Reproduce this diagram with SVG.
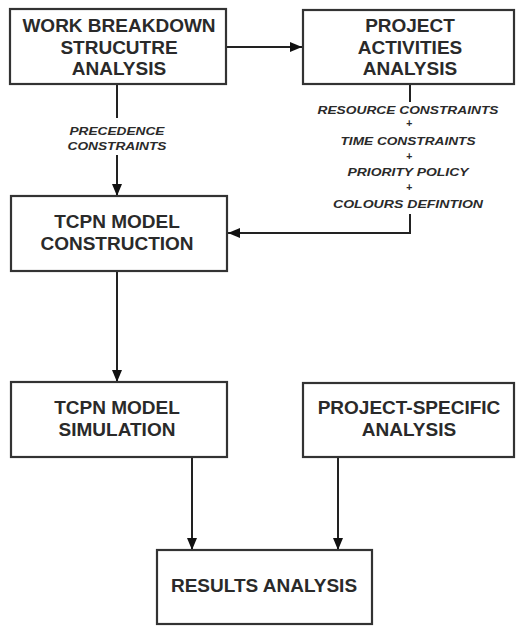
<svg xmlns="http://www.w3.org/2000/svg" width="516" height="626" viewBox="0 0 516 626">
<defs>
<style>
.box{fill:#fff;stroke:#333;stroke-width:2.2}
.t{font-family:"Liberation Sans",Arial,sans-serif;font-weight:bold;font-size:19px;fill:#2a2a2a;text-anchor:middle}
.l{font-family:"Liberation Sans",Arial,sans-serif;font-weight:bold;font-style:italic;font-size:10.5px;fill:#2a2a2a;text-anchor:middle}
.c{fill:none;stroke:#222;stroke-width:2}
</style>
<marker id="ah" viewBox="0 0 12 10" refX="12" refY="5" markerWidth="12" markerHeight="10" markerUnits="userSpaceOnUse" orient="auto">
<path d="M0,0 L12,5 L0,10 Z" fill="#111"/>
</marker>
</defs>
<g id="connectors">
<line class="c" x1="226" y1="47" x2="302" y2="47" marker-end="url(#ah)"/>
<line class="c" x1="117" y1="84" x2="117" y2="118"/>
<line class="c" x1="117" y1="155" x2="117" y2="196" marker-end="url(#ah)"/>
<line class="c" x1="410" y1="84" x2="410" y2="102"/>
<polyline class="c" points="410,214 410,233 228,233" marker-end="url(#ah)"/>
<line class="c" x1="117" y1="271" x2="117" y2="382" marker-end="url(#ah)"/>
<line class="c" x1="192" y1="457" x2="192" y2="550" marker-end="url(#ah)"/>
<line class="c" x1="338" y1="457" x2="338" y2="550" marker-end="url(#ah)"/>
</g>
<g id="labels">
<text class="l" x="117" y="135" textLength="95" lengthAdjust="spacingAndGlyphs">PRECEDENCE</text>
<text class="l" x="117" y="150" textLength="99" lengthAdjust="spacingAndGlyphs">CONSTRAINTS</text>
<text class="l" x="408" y="114" textLength="181" lengthAdjust="spacingAndGlyphs">RESOURCE CONSTRAINTS</text>
<text class="l" x="409" y="127">+</text>
<text class="l" x="408" y="145" textLength="135" lengthAdjust="spacingAndGlyphs">TIME CONSTRAINTS</text>
<text class="l" x="409" y="160">+</text>
<text class="l" x="408" y="176" textLength="121" lengthAdjust="spacingAndGlyphs">PRIORITY POLICY</text>
<text class="l" x="409" y="191">+</text>
<text class="l" x="408" y="208" textLength="150" lengthAdjust="spacingAndGlyphs">COLOURS DEFINTION</text>
</g>
<g id="wbs">
<rect class="box" x="10" y="9" width="216" height="75"/>
<text class="t" x="119" y="32">WORK BREAKDOWN</text>
<text class="t" x="119" y="54">STRUCUTRE</text>
<text class="t" x="119" y="75">ANALYSIS</text>
</g>
<g id="paa">
<rect class="box" x="303" y="10" width="211" height="74"/>
<text class="t" x="410" y="32">PROJECT</text>
<text class="t" x="410" y="54">ACTIVITIES</text>
<text class="t" x="410" y="75">ANALYSIS</text>
</g>
<g id="construction">
<rect class="box" x="11" y="196" width="216" height="75"/>
<text class="t" x="117" y="228">TCPN MODEL</text>
<text class="t" x="117" y="250">CONSTRUCTION</text>
</g>
<g id="simulation">
<rect class="box" x="11" y="382" width="216" height="75"/>
<text class="t" x="117" y="414">TCPN MODEL</text>
<text class="t" x="117" y="436">SIMULATION</text>
</g>
<g id="specific">
<rect class="box" x="303" y="383" width="211" height="74"/>
<text class="t" x="409" y="414">PROJECT-SPECIFIC</text>
<text class="t" x="409" y="436">ANALYSIS</text>
</g>
<g id="results">
<rect class="box" x="157" y="550" width="215" height="74"/>
<text class="t" x="264" y="592">RESULTS ANALYSIS</text>
</g>
</svg>
